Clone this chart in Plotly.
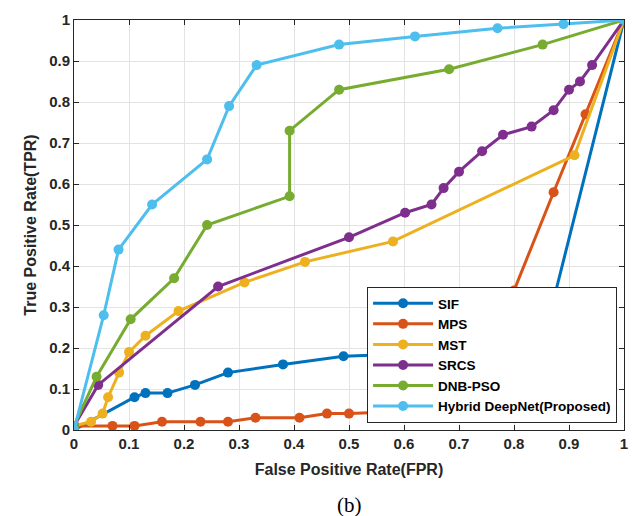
import plotly.graph_objects as go

names = ["SIF", "MPS", "MST", "SRCS", "DNB-PSO", "Hybrid DeepNet(Proposed)"]
colors = ["#0072BD", "#D95319", "#EDB120", "#7E2F8E", "#77AC30", "#4DBEEE"]

sif_x = [0, 0.11, 0.13, 0.17, 0.22, 0.28, 0.38, 0.49, 0.70, 0.85, 1]
sif_y = [0, 0.08, 0.09, 0.09, 0.11, 0.14, 0.16, 0.18, 0.19, 0.20, 1]

mps_x = [0, 0.07, 0.11, 0.16, 0.23, 0.28, 0.33, 0.41, 0.46, 0.50, 0.70, 0.80, 0.872, 0.93, 1]
mps_y = [0.01, 0.01, 0.01, 0.02, 0.02, 0.02, 0.03, 0.03, 0.04, 0.04, 0.05, 0.34, 0.58, 0.77, 1]

mst_x = [0, 0.031, 0.052, 0.062, 0.082, 0.10, 0.13, 0.19, 0.31, 0.42, 0.58, 0.91, 1]
mst_y = [0.01, 0.02, 0.04, 0.08, 0.14, 0.19, 0.23, 0.29, 0.36, 0.41, 0.46, 0.67, 1]

srcs_x = [0, 0.044, 0.262, 0.50, 0.602, 0.65, 0.672, 0.70, 0.742, 0.78, 0.832, 0.872, 0.90, 0.92, 0.942, 1]
srcs_y = [0.01, 0.11, 0.35, 0.47, 0.53, 0.55, 0.59, 0.63, 0.68, 0.72, 0.74, 0.78, 0.83, 0.85, 0.89, 1]

dnb_x = [0, 0.041, 0.103, 0.182, 0.242, 0.392, 0.392, 0.482, 0.682, 0.852, 1]
dnb_y = [0.01, 0.13, 0.27, 0.37, 0.50, 0.57, 0.73, 0.83, 0.88, 0.94, 1]

hyb_x = [0, 0.054, 0.081, 0.142, 0.242, 0.282, 0.332, 0.482, 0.62, 0.77, 0.89, 1]
hyb_y = [0, 0.28, 0.44, 0.55, 0.66, 0.79, 0.89, 0.94, 0.96, 0.98, 0.99, 1]

series = [(sif_x, sif_y), (mps_x, mps_y), (mst_x, mst_y), (srcs_x, srcs_y), (dnb_x, dnb_y), (hyb_x, hyb_y)]

tick_vals = [0, 0.1, 0.2, 0.3, 0.4, 0.5, 0.6, 0.7, 0.8, 0.9, 1]
tick_text = ["0", "0.1", "0.2", "0.3", "0.4", "0.5", "0.6", "0.7", "0.8", "0.9", "1"]

fig = go.Figure()
for (xs, ys), n, c in zip(series, names, colors):
    fig.add_trace(go.Scatter(x=xs, y=ys, name="<b>" + n + "</b>", mode="lines+markers",
                             line=dict(color=c, width=3),
                             marker=dict(color=c, size=10)))

axis_common = dict(
    range=[0, 1], tickvals=tick_vals, ticktext=["<b>" + t + "</b>" for t in tick_text],
    showgrid=True, gridcolor="#E3E3E3", gridwidth=1,
    showline=True, linecolor="#262626", linewidth=1, mirror="ticks",
    ticks="inside", ticklen=5, tickcolor="#262626",
    tickfont=dict(family="Arial, Liberation Sans", size=15, color="#262626"),
    zeroline=False,
)

fig.update_layout(
    width=639, height=516,
    margin=dict(l=74, r=11, t=18, b=86),
    paper_bgcolor="white", plot_bgcolor="white",
    font=dict(family="Arial, Liberation Sans", color="#262626"),
    xaxis=dict(**axis_common,
               title=dict(text="<b>False Positive Rate(FPR)</b>", font=dict(size=16, color="#262626"), standoff=12)),
    yaxis=dict(**axis_common,
               title=dict(text="<b>True Positive Rate(TPR)</b>", font=dict(size=16, color="#262626"), standoff=8)),
    legend=dict(x=0.9874, y=0.017, xanchor="right", yanchor="bottom",
                bgcolor="white", bordercolor="#262626", borderwidth=1,
                font=dict(family="Arial, Liberation Sans", size=13.5, color="black"),
                itemwidth=60, tracegroupgap=0),
    showlegend=True,
)

fig.add_annotation(text="(b)", xref="paper", yref="paper", x=0.5, y=0, yshift=-75,
                   xanchor="center", yanchor="middle", showarrow=False,
                   font=dict(family="Liberation Serif, Times New Roman", size=21, color="black"))

fig.write_html("out.html")
